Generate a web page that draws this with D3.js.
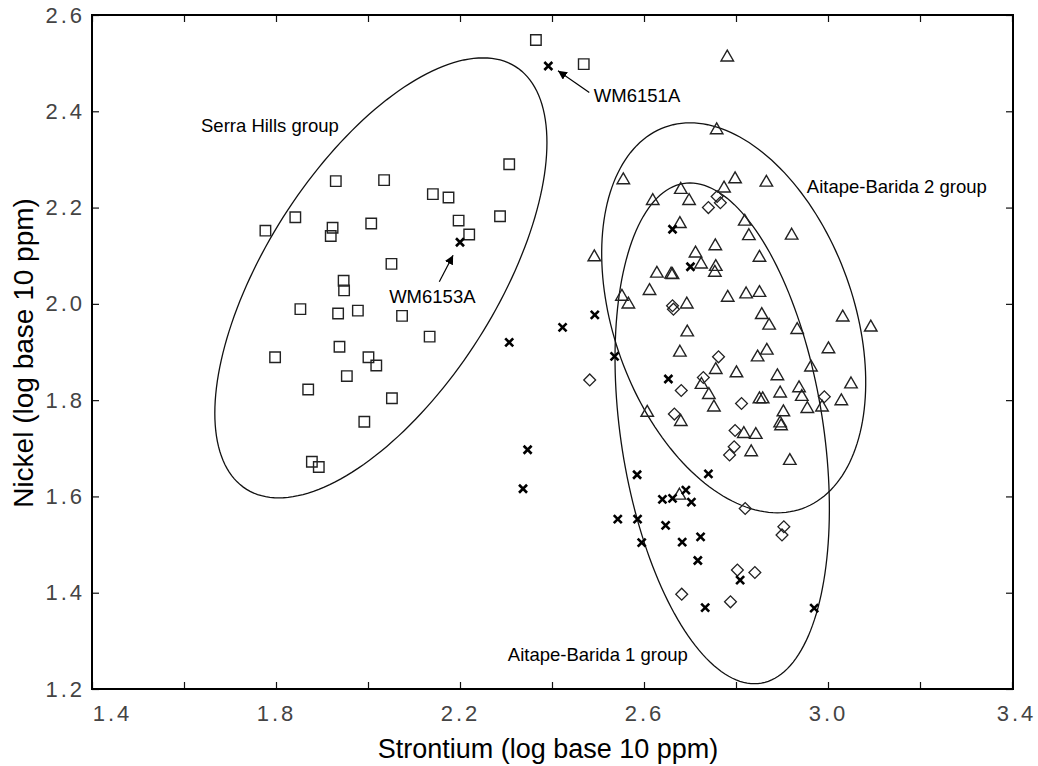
<!DOCTYPE html>
<html lang="en">
<head>
  <meta charset="UTF-8">
  <title>Strontium vs Nickel</title>
  <style>
    body { margin: 0; background: #fff; }
    svg { display: block; }
    .tick-label { font-family: "Liberation Sans", Arial, sans-serif; font-size: 22px; fill: #444; letter-spacing: 3px; }
    .axis-title { font-family: "Liberation Sans", Arial, sans-serif; fill: #000; }
    .note { font-family: "Liberation Sans", Arial, sans-serif; font-size: 18.5px; fill: #000; }
  </style>
</head>
<body>
  <svg id="chart"></svg>

  <script src="https://d3js.org/d3.v7.min.js"></script>
  <script>
    // --- data (log10 ppm) ---
    const serraSr = [2.307, 1.930, 2.035, 2.141, 2.175, 1.842, 2.197, 2.287, 1.777, 1.923, 1.919,
                     2.007, 2.220, 2.051, 1.947, 1.948, 1.853, 1.935, 1.978, 2.074, 2.134, 1.798,
                     1.938, 2.001, 2.018, 1.954, 1.870, 2.052, 1.992, 1.878, 1.893, 2.365, 2.469];
    const serraNi = [2.290, 2.255, 2.257, 2.228, 2.221, 2.180, 2.173, 2.182, 2.152, 2.158, 2.141,
                     2.167, 2.144, 2.083, 2.048, 2.028, 1.989, 1.980, 1.986, 1.975, 1.932, 1.889,
                     1.911, 1.889, 1.872, 1.850, 1.822, 1.804, 1.755, 1.672, 1.661, 2.548, 2.498];

    const ab2Sr = [2.781, 2.758, 2.555, 2.680, 2.774, 2.798, 2.619, 2.698, 2.678, 2.712, 2.755,
                   2.724, 2.756, 2.754, 2.492, 2.628, 2.659, 2.662, 2.612, 2.782, 2.552, 2.566,
                   2.693, 2.694, 2.678, 2.866, 2.819, 2.828, 2.921, 2.851, 2.822, 2.851, 2.856,
                   2.872, 2.933, 3.032, 3.093, 3.001, 2.867, 2.847, 2.756, 2.801, 2.725, 2.741,
                   2.752, 2.607, 2.680, 2.677, 2.963, 2.890, 3.050, 2.937, 2.896, 2.943, 3.029,
                   2.851, 2.858, 2.955, 2.987, 2.903, 2.896, 2.898, 2.817, 2.843, 2.833, 2.917];
    const ab2Ni = [2.512, 2.361, 2.257, 2.237, 2.240, 2.259, 2.214, 2.214, 2.166, 2.105, 2.120,
                   2.082, 2.077, 2.065, 2.097, 2.063, 2.061, 2.060, 2.027, 2.013, 2.015, 1.999,
                   1.999, 1.941, 1.899, 2.252, 2.171, 2.141, 2.142, 2.096, 2.020, 2.023, 1.977,
                   1.955, 1.946, 1.972, 1.951, 1.906, 1.903, 1.889, 1.863, 1.856, 1.832, 1.811,
                   1.785, 1.774, 1.755, 1.602, 1.868, 1.850, 1.833, 1.825, 1.814, 1.807, 1.798,
                   1.802, 1.802, 1.782, 1.785, 1.775, 1.752, 1.746, 1.730, 1.728, 1.692, 1.674];

    const ab1Sr = [2.759, 2.766, 2.740, 2.662, 2.664, 2.762, 2.482, 2.729, 2.681, 2.666, 2.798,
                   2.796, 2.786, 2.812, 2.992, 2.820, 2.904, 2.900, 2.803, 2.841, 2.682, 2.788];
    const ab1Ni = [2.223, 2.210, 2.200, 1.996, 1.989, 1.890, 1.842, 1.847, 1.820, 1.771, 1.737,
                   1.703, 1.686, 1.793, 1.807, 1.575, 1.537, 1.520, 1.447, 1.442, 1.397, 1.381];

    const otherSr = [2.392, 2.200, 2.307, 2.347, 2.337, 2.493, 2.423, 2.536, 2.662, 2.701, 2.653,
                     2.585, 2.740, 2.640, 2.662, 2.691, 2.703, 2.543, 2.586, 2.647, 2.595, 2.683,
                     2.723, 2.717, 2.809, 2.733, 2.970];
    const otherNi = [2.494, 2.128, 1.920, 1.697, 1.616, 1.977, 1.951, 1.891, 2.155, 2.077, 1.844,
                     1.645, 1.647, 1.594, 1.596, 1.613, 1.588, 1.553, 1.553, 1.540, 1.504, 1.505,
                     1.516, 1.467, 1.426, 1.369, 1.368];

    // group ellipses: centre, half extents, and the Sr value at the ellipse top
    const ellipseNames = ["Serra Hills", "Aitape-Barida 2", "Aitape-Barida 1"];
    const ellipseCx = [2.028, 2.795, 2.770];
    const ellipseCy = [2.054, 1.971, 1.731];
    const ellipseRx = [0.361, 0.287, 0.233];
    const ellipseRy = [0.457, 0.405, 0.520];
    const ellipseTopX = [2.250, 2.700, 2.700];

    // text annotations (start x, baseline y, in data units)
    const noteText = ["Serra Hills group", "WM6153A", "WM6151A", "Aitape-Barida 2 group", "Aitape-Barida 1 group"];
    const noteX = [1.637, 2.046, 2.491, 2.954, 2.304];
    const noteY = [2.357, 2.002, 2.419, 2.230, 1.258];

    // arrows [fromX, fromY, toX, toY]
    const arrows = [[2.155, 2.046, 2.185, 2.101], [2.481, 2.439, 2.413, 2.484]];

    const xTicks = d3.range(1.4, 3.41, 0.2);
    const yTicks = d3.range(1.2, 2.61, 0.2);
    const xMajor = [1.4, 1.8, 2.2, 2.6, 3.0, 3.4];
    const yMajor = [1.2, 1.4, 1.6, 1.8, 2.0, 2.2, 2.4, 2.6];

    // --- setup ---
    const width = 1038, height = 766;
    const plotLeft = 92, plotRight = 1012, plotTop = 15, plotBottom = 689;

    const svg = d3.select("#chart").attr("width", width).attr("height", height);

    const x = d3.scaleLinear().domain([1.4, 3.4]).range([plotLeft, plotRight]);
    const y = d3.scaleLinear().domain([1.2, 2.6]).range([plotBottom, plotTop]);

    const isMajor = (list, v) => list.some(m => Math.abs(m - v) < 1e-6);

    // --- axes: ticks point inward on all four sides ---
    const gx = svg.append("g").attr("transform", `translate(0,${plotBottom})`)
      .call(d3.axisBottom(x).tickValues(xTicks).tickSizeInner(-7).tickSizeOuter(0).tickPadding(16)
        .tickFormat(v => isMajor(xMajor, v) ? d3.format(".1f")(v) : ""));
    // end labels sit a little off their ticks, as in the original plot
    gx.selectAll("text").attr("class", "tick-label")
      .attr("dx", (d, i) => i === 0 ? 20 : (i === xTicks.length - 1 ? 4 : 0));

    const gy = svg.append("g").attr("transform", `translate(${plotLeft},0)`)
      .call(d3.axisLeft(y).tickValues(yTicks).tickSizeInner(-7).tickSizeOuter(0).tickPadding(7)
        .tickFormat(v => isMajor(yMajor, v) ? d3.format(".1f")(v) : ""));
    gy.selectAll("text").attr("class", "tick-label");

    svg.append("g").attr("transform", `translate(0,${plotTop})`)
      .call(d3.axisTop(x).tickValues(xTicks).tickSizeInner(-7).tickSizeOuter(0).tickFormat(""));
    svg.append("g").attr("transform", `translate(${plotRight + 1},0)`)
      .call(d3.axisRight(y).tickValues(yTicks).tickSizeInner(-7).tickSizeOuter(0).tickFormat(""));

    svg.selectAll(".domain").remove();
    svg.selectAll(".tick line").attr("stroke", "#111").attr("stroke-width", 1.2);

    svg.append("rect")
      .attr("x", plotLeft).attr("y", plotTop)
      .attr("width", plotRight + 1 - plotLeft).attr("height", plotBottom - plotTop)
      .attr("fill", "none").attr("stroke", "#000").attr("stroke-width", 2);

    // axis titles
    svg.append("text").attr("class", "axis-title")
      .attr("x", 548).attr("y", 758).attr("text-anchor", "middle").attr("font-size", 27)
      .text("Strontium (log base 10 ppm)");
    svg.append("text").attr("class", "axis-title")
      .attr("transform", "translate(33,353) rotate(-90)").attr("text-anchor", "middle").attr("font-size", 28)
      .text("Nickel (log base 10 ppm)");

    // --- ellipses ---
    const line = d3.line().x(d => x(d[0])).y(d => y(d[1])).curve(d3.curveLinearClosed);
    ellipseNames.forEach((name, i) => {
      const delta = Math.acos((ellipseTopX[i] - ellipseCx[i]) / ellipseRx[i]);
      const pts = d3.range(0, 360, 2).map(deg => {
        const s = deg * Math.PI / 180;
        return [ellipseCx[i] + ellipseRx[i] * Math.cos(s + delta), ellipseCy[i] + ellipseRy[i] * Math.cos(s)];
      });
      svg.append("path").attr("d", line(pts))
        .attr("fill", "none").attr("stroke", "#111").attr("stroke-width", 1.3);
    });

    // --- points ---
    const zip = (a, b) => a.map((v, i) => [v, b[i]]);

    svg.append("g").selectAll("path").data(zip(serraSr, serraNi)).join("path")
      .attr("d", d3.symbol(d3.symbolSquare, 110))
      .attr("transform", d => `translate(${x(d[0])},${y(d[1])})`)
      .attr("fill", "none").attr("stroke", "#222").attr("stroke-width", 1.4);

    svg.append("g").selectAll("path").data(zip(ab2Sr, ab2Ni)).join("path")
      .attr("d", d3.symbol(d3.symbolTriangle, 68))
      .attr("transform", d => `translate(${x(d[0])},${y(d[1])})`)
      .attr("fill", "none").attr("stroke", "#222").attr("stroke-width", 1.4);

    svg.append("g").selectAll("path").data(zip(ab1Sr, ab1Ni)).join("path")
      .attr("d", d3.symbol(d3.symbolSquare, 70))
      .attr("transform", d => `translate(${x(d[0])},${y(d[1])}) rotate(45)`)
      .attr("fill", "none").attr("stroke", "#222").attr("stroke-width", 1.3);

    const cross = { draw(ctx, size) { const r = Math.sqrt(size) / 2;
      ctx.moveTo(-r, -r); ctx.lineTo(r, r); ctx.moveTo(r, -r); ctx.lineTo(-r, r); } };
    svg.append("g").selectAll("path").data(zip(otherSr, otherNi)).join("path")
      .attr("d", d3.symbol(cross, 64))
      .attr("transform", d => `translate(${x(d[0])},${y(d[1])})`)
      .attr("fill", "none").attr("stroke", "#000").attr("stroke-width", 2.6);

    // --- annotations ---
    svg.append("g").selectAll("text").data(noteText).join("text")
      .attr("class", "note")
      .attr("x", (d, i) => x(noteX[i])).attr("y", (d, i) => y(noteY[i]))
      .text(d => d);

    svg.append("defs").append("marker")
      .attr("id", "head").attr("viewBox", "0 0 10 10").attr("refX", 10).attr("refY", 5)
      .attr("markerWidth", 9).attr("markerHeight", 9).attr("markerUnits", "userSpaceOnUse")
      .attr("orient", "auto")
      .append("path").attr("d", "M0,0L10,5L0,10Z").attr("fill", "#000");

    svg.append("g").selectAll("line").data(arrows).join("line")
      .attr("x1", d => x(d[0])).attr("y1", d => y(d[1]))
      .attr("x2", d => x(d[2])).attr("y2", d => y(d[3]))
      .attr("stroke", "#000").attr("stroke-width", 1.2)
      .attr("marker-end", "url(#head)");
  </script>
</body>
</html>
